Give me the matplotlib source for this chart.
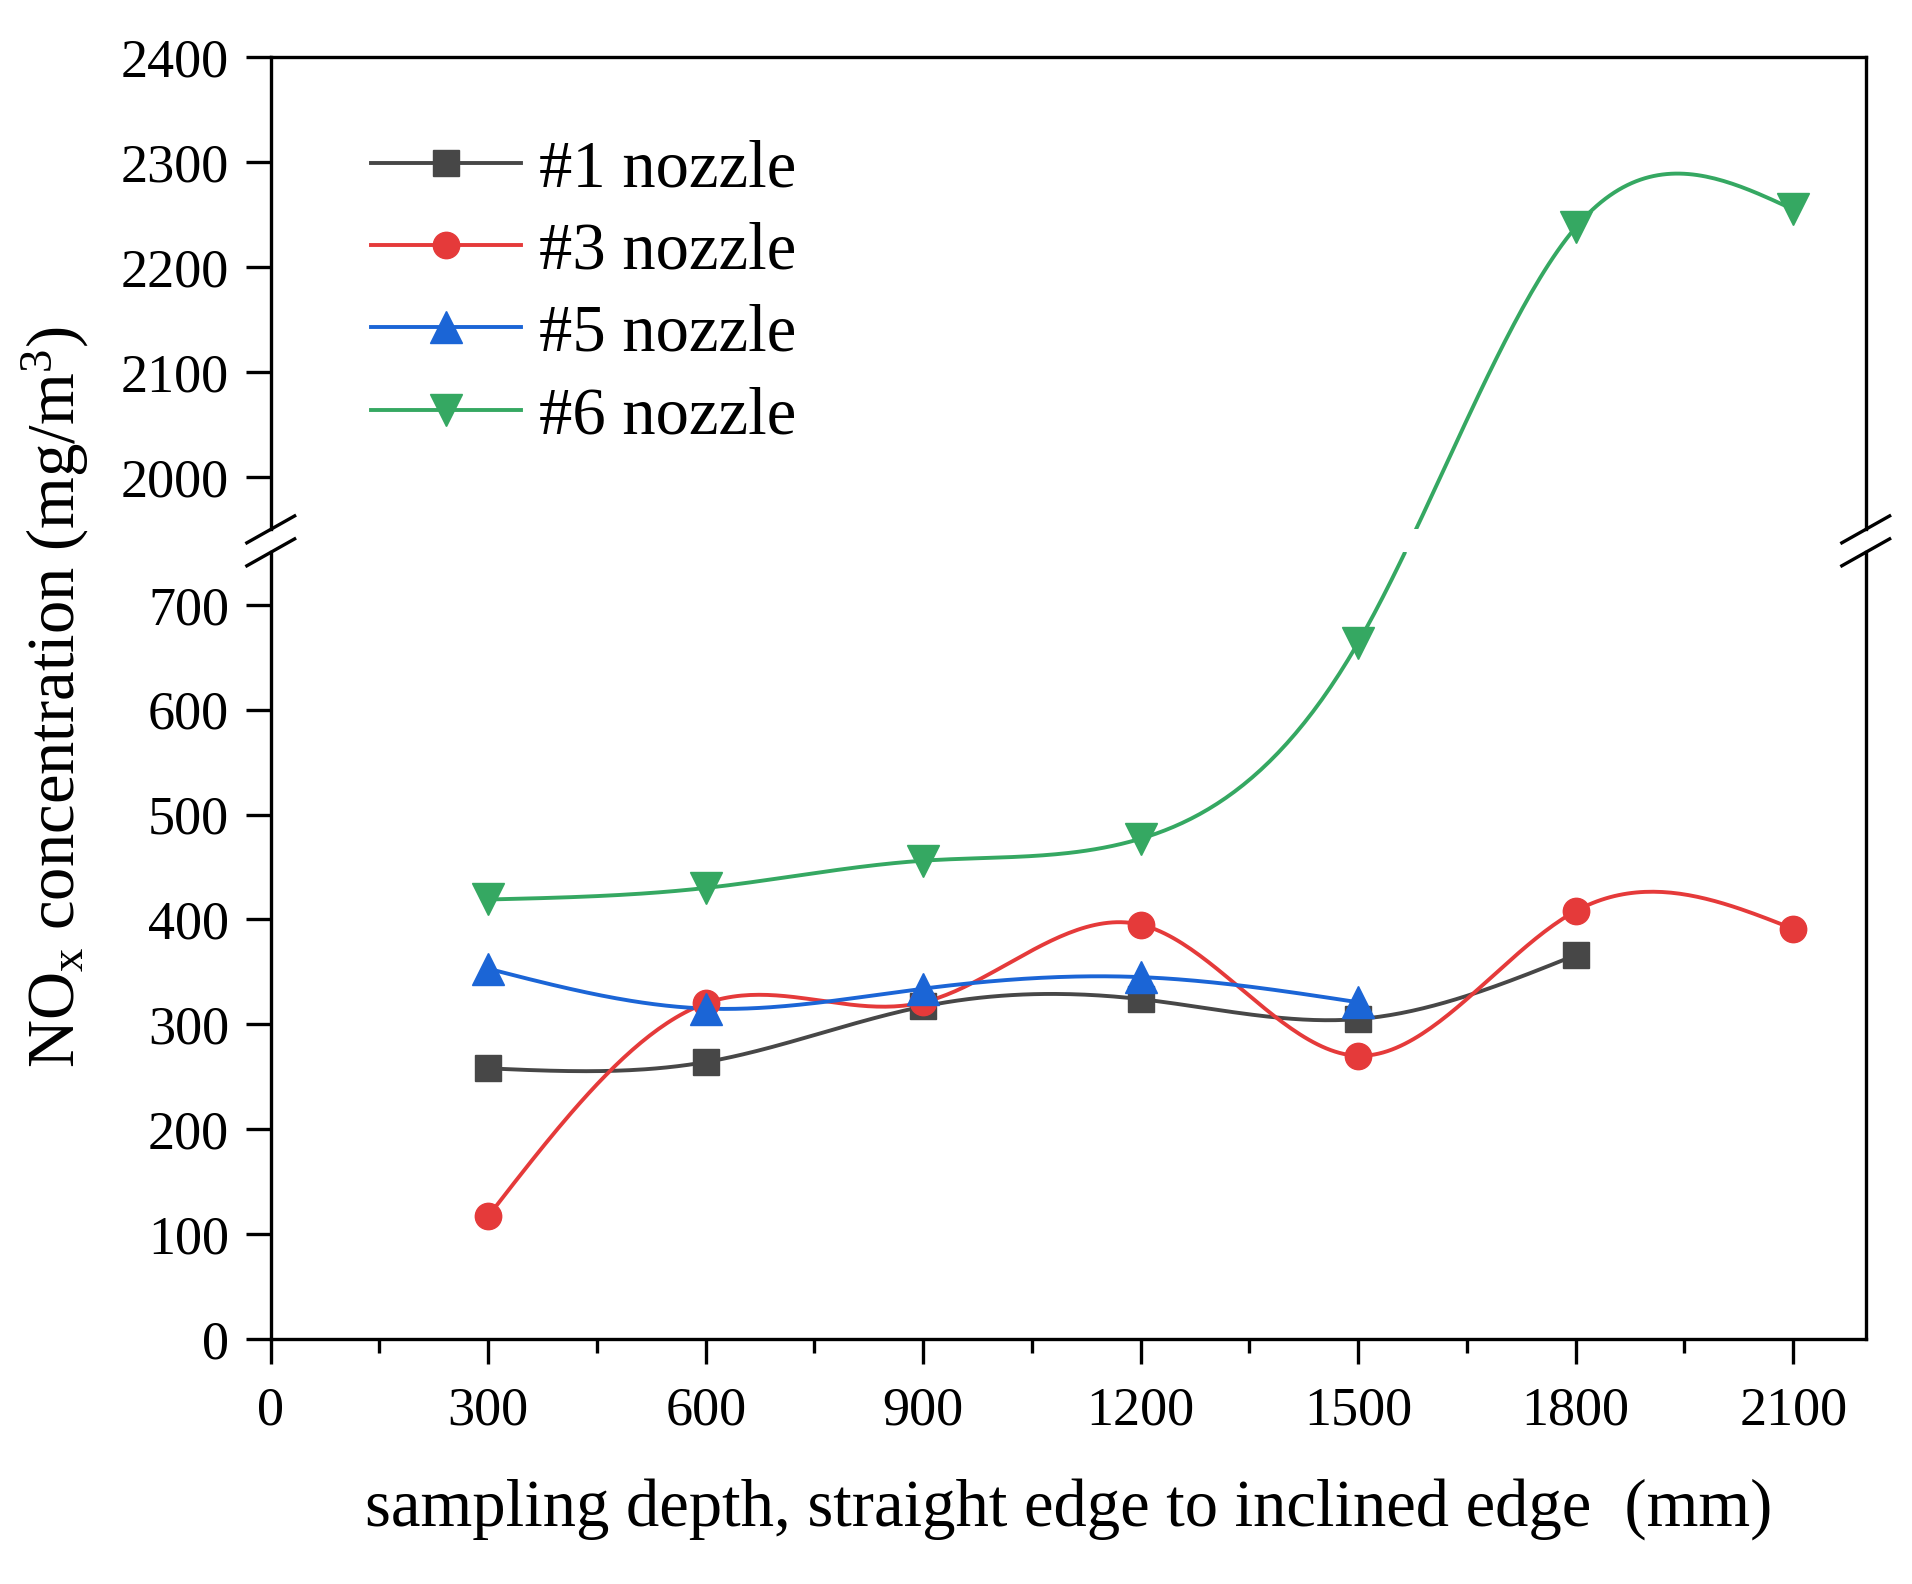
import numpy as np
import matplotlib.pyplot as plt

# data
depth = [300, 600, 900, 1200, 1500, 1800, 2100]
nozzle1 = [258, 264, 317, 324, 305, 366]
nozzle3 = [117, 320, 321, 395, 270, 408, 391]
nozzle5 = [353, 315, 334, 345, 321]
nozzle6 = [419, 430, 456, 477, 664, 2238, 2255]

labels = ['#1 nozzle', '#3 nozzle', '#5 nozzle', '#6 nozzle']
colors = ['#474747', '#e53a3a', '#1b65d6', '#35a862']
markers = ['s', 'o', '^', 'v']

# broken y axis
LOW_MAX = 750
HIGH_MIN = 1950
GAP = 22
OFFSET = HIGH_MIN - LOW_MAX - GAP

plt.rcParams['font.family'] = ['Liberation Serif', 'DejaVu Serif']
plt.rcParams['mathtext.fontset'] = 'custom'
plt.rcParams['mathtext.rm'] = 'Liberation Serif'
plt.rcParams['mathtext.it'] = 'Liberation Serif:italic'


def natural_spline(x, y, n=300):
    """Natural cubic spline through the points."""
    x = np.asarray(x, float)
    y = np.asarray(y, float)
    k = len(x)
    h = np.diff(x)
    A = np.zeros((k, k))
    r = np.zeros(k)
    A[0, 0] = A[-1, -1] = 1
    for i in range(1, k - 1):
        A[i, i - 1] = h[i - 1]
        A[i, i] = 2 * (h[i - 1] + h[i])
        A[i, i + 1] = h[i]
        r[i] = 3 * ((y[i + 1] - y[i]) / h[i] - (y[i] - y[i - 1]) / h[i - 1])
    c = np.linalg.solve(A, r)
    b = (y[1:] - y[:-1]) / h - h * (2 * c[:-1] + c[1:]) / 3
    d = (c[1:] - c[:-1]) / (3 * h)
    xs = np.linspace(x[0], x[-1], n)
    idx = np.clip(np.searchsorted(x, xs, side='right') - 1, 0, k - 2)
    dx = xs - x[idx]
    ys = y[idx] + b[idx] * dx + c[idx] * dx ** 2 + d[idx] * dx ** 3
    return xs, ys


def to_display(y):
    y = np.asarray(y, float)
    return np.where(y > LOW_MAX + GAP, y - OFFSET, y)


def from_display(d):
    return np.where(d > LOW_MAX, d + OFFSET, d)


fig = plt.figure(figsize=(19.12, 15.84), dpi=100)
L, W = 0.1416, 0.8342
ax_top = fig.add_axes([L, 0.6658, W, 0.2980])
ax_bot = fig.add_axes([L, 0.1547, W, 0.4966])

series = [nozzle1, nozzle3, nozzle5, nozzle6]
for vals, lab, col, mk in zip(series, labels, colors, markers):
    xs = depth[:len(vals)]
    sx, sd = natural_spline(xs, to_display(vals))
    sy = from_display(sd)
    ms = 23 if mk in ('^', 'v') else 19
    for ax in (ax_top, ax_bot):
        ax.plot(sx, sy, color=col, lw=2.8, zorder=2)
        ax.plot(xs, vals, ls='none', marker=mk, ms=ms, color=col, zorder=3)
    # legend handle
    ax_top.plot([], [], color=col, lw=2.8, marker=mk, ms=ms, label=lab)

for ax in (ax_top, ax_bot):
    ax.set_xlim(0, 2200)
    for s in ax.spines.values():
        s.set_linewidth(2.4)
    ax.tick_params(axis='both', which='major', direction='out', length=18,
                   width=2.4, labelsize=39, pad=12)
    ax.tick_params(right=False, top=False)

ax_top.set_ylim(HIGH_MIN, 2400)
ax_top.set_yticks([2000, 2100, 2200, 2300, 2400])
ax_top.spines['bottom'].set_visible(False)
ax_top.tick_params(axis='x', which='both', bottom=False, labelbottom=False)

ax_bot.set_ylim(0, LOW_MAX)
ax_bot.set_yticks(range(0, 701, 100))
ax_bot.spines['top'].set_visible(False)
ax_bot.set_xticks(range(0, 2101, 300))
ax_bot.set_xticks(range(150, 2101, 300), minor=True)
ax_bot.tick_params(axis='x', which='minor', direction='out', length=10, width=2.4)
ax_bot.tick_params(axis='x', which='major', pad=16)

ax_bot.set_xlabel('sampling depth, straight edge to inclined edge  (mm)',
                  fontsize=48, labelpad=30)
fig.text(0.029, 0.56, r'NO$_\mathrm{x}$ concentration (mg/m$^3$)',
         rotation=90, ha='center', va='center', fontsize=48)

# break marks on both side spines
dx, dy = 0.0125, 0.0085
for y0 in (0.6658, 0.6513):
    for xe in (L, L + W):
        fig.add_artist(plt.Line2D([xe - dx, xe + dx], [y0 - dy, y0 + dy],
                                  color='black', lw=2.4))

ax_top.legend(loc='upper left', bbox_to_anchor=(0.063, 0.827), frameon=False,
              fontsize=48, handlelength=2.25, handletextpad=0.26,
              labelspacing=0.32, borderpad=0, borderaxespad=0)

fig.savefig('out.png', dpi=100)
